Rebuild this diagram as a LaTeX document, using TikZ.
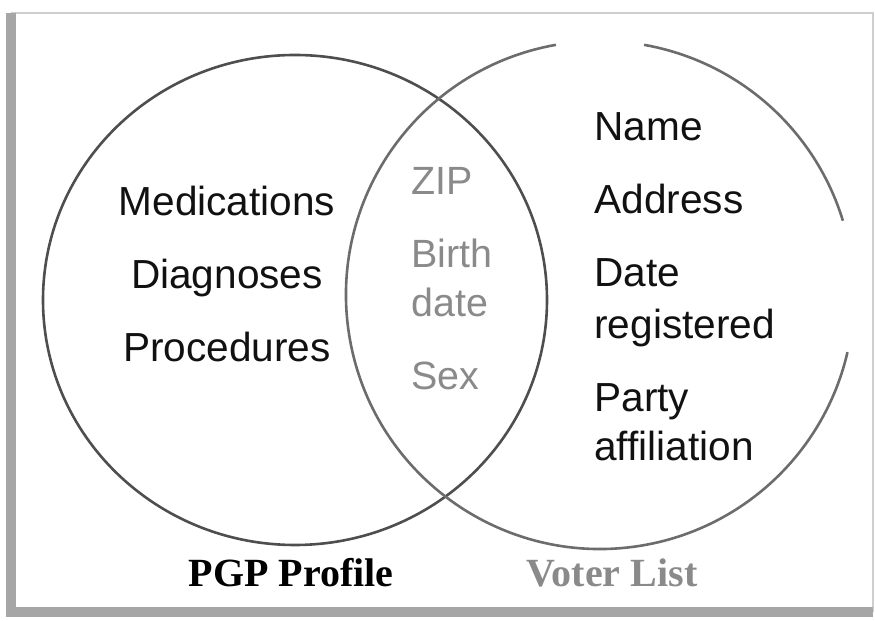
\documentclass[tikz,border=0pt]{standalone}
\usepackage{fontspec}
\setmainfont{Liberation Sans}
\newfontfamily\capfont{Liberation Serif}
\usepackage{xcolor}
\usetikzlibrary{positioning}
\definecolor{vnInk}{HTML}{111111}
\definecolor{vnRing}{HTML}{4E4E4E}
\definecolor{vnRingLt}{HTML}{6C6C6C}
\definecolor{vnShared}{HTML}{8A8A8A}
\definecolor{vnFrame}{HTML}{A6A6A6}
\definecolor{vnFrameLt}{HTML}{CFCFCF}
\tikzset{
  fld/.style={inner sep=0pt, font=\fontsize{20.3}{25.5}\selectfont, text=vnInk},
  fldL/.style={fld, anchor=base},
  fldR/.style={fld, anchor=base west},
  fldS/.style={fld, anchor=base west, text=vnShared, font=\fontsize{19.7}{25.5}\selectfont},
  ring/.style={draw=vnRing, line width=1.3pt},
  ringLt/.style={ring, draw=vnRingLt},
  setlbl/.style={inner sep=0pt, anchor=base, font=\capfont\bfseries\fontsize{20}{22}\selectfont},
  frm/.style={draw=vnFrameLt, line width=0.8pt},
  frmB/.style={draw=vnFrame, line width=5pt},
}
\begin{document}
\begin{tikzpicture}[x=0.5pt, y=0.5pt]
        \useasboundingbox (0,0) rectangle (875,621);
        \coordinate (fbl) at (11,9); \coordinate (ftl) at (11,608);
        \coordinate (ftr) at (873,608); \coordinate (fbr) at (873,9);
        \draw[frm] (ftl) -- (ftr) -- (fbr);
        \draw[frmB] (ftl) -- (fbl) -- (fbr);
        \coordinate (pgp) at (295,321);
        \coordinate (voter) at (600,326);
        \draw[ring] (pgp) ellipse [x radius=252, y radius=245];
        \draw[ringLt] (voter) ++(100:254) arc[start angle=100, end angle=347, radius=254];
        \draw[ringLt] (voter) ++(17:254) arc[start angle=17, end angle=80, radius=254];
        \node[fldL] (med) at (227,405) {Medications};
        \node[fldL] (diag) at (227,332) {Diagnoses};
        \node[fldL] (proc) at (227,259) {Procedures};
        \node[fldS] (zip) at (411,426) {ZIP};
        \node[fldS] (birth) at (411,353) {Birth};
        \node[fldS] (bdate) at (411,304) {date};
        \node[fldS] (sex) at (411,231) {Sex};
        \node[fldR] (name) at (594,480) {Name};
        \node[fldR] (addr) at (594,407) {Address};
        \node[fldR] (dreg) at (594,334) {Date};
        \node[fldR] (reg) at (594,282) {registered};
        \node[fldR] (party) at (594,209) {Party};
        \node[fldR] (affil) at (594,160) {affiliation};
        \node[setlbl] (pgplbl) at (291,34) {PGP Profile};
        \node[setlbl, text=vnShared] (voterlbl) at (612,34) {Voter List};
    \end{tikzpicture}
\end{document}
